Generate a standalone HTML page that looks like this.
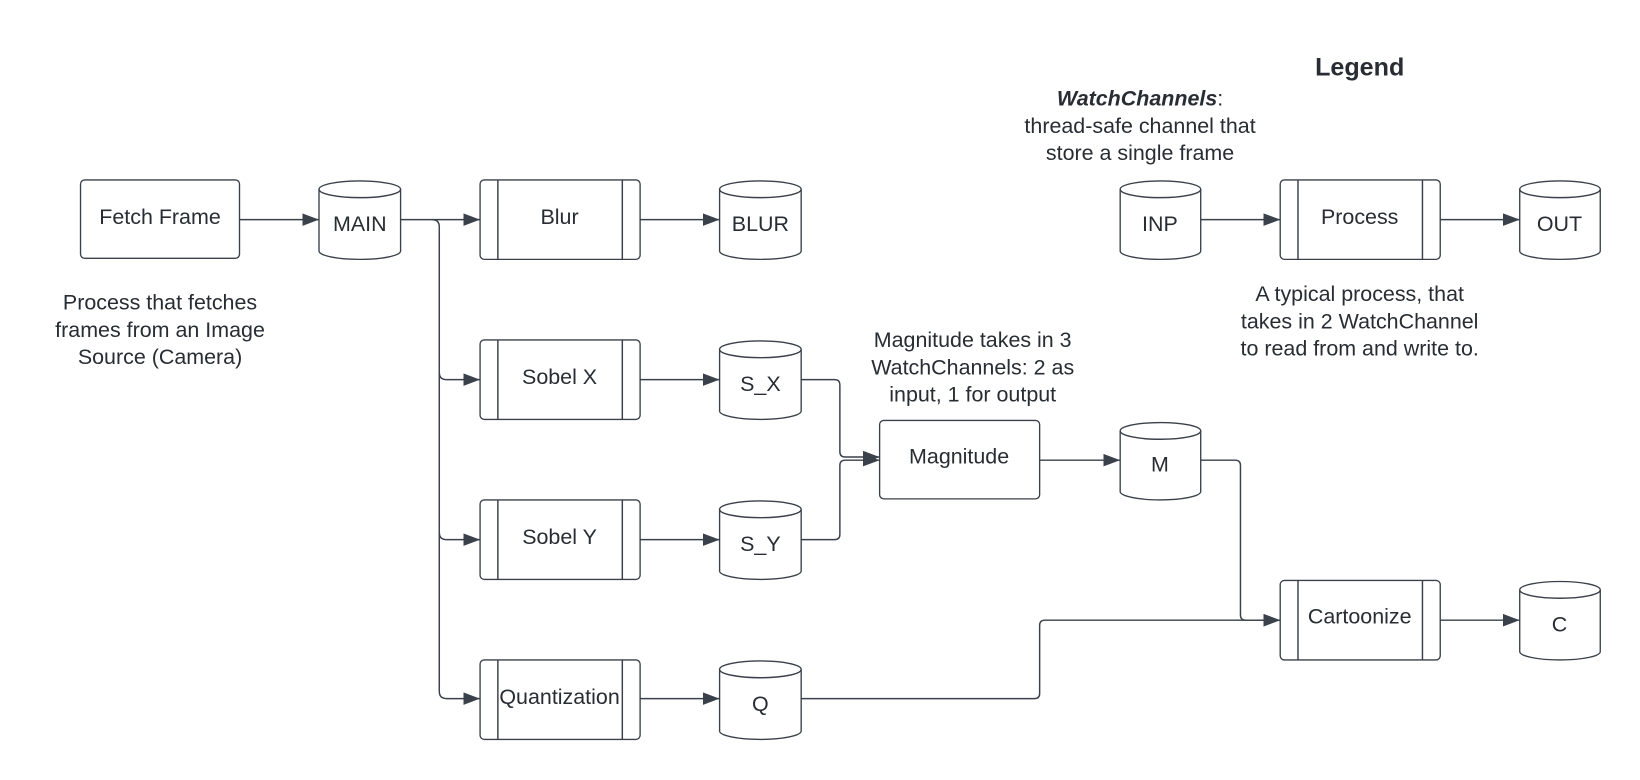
<!DOCTYPE html>
<html><head><meta charset="utf-8"><style>
body{margin:0;background:#fff}
svg{display:block}
text{font-family:"Liberation Sans",Arial,sans-serif;font-size:20.5px;fill:#282c33;text-anchor:middle}
.s{fill:#fff;stroke:#3a414a;stroke-width:1.3}
.l{fill:none;stroke:#3a414a;stroke-width:1.4}
</style></head><body>
<svg width="1640" height="780" viewBox="0 0 1568 745.8" preserveAspectRatio="none">
<defs>
<marker id="b" viewBox="0 0 16 12" refX="16" refY="6" markerWidth="16" markerHeight="12" markerUnits="userSpaceOnUse" orient="auto"><path d="M0,0 L16,6 L0,12z" fill="#3a414a"/></marker></defs>

<g class="l">
<path d="M229,210 H305" marker-end="url(#b)"/>
<path d="M383,210 H459" marker-end="url(#b)"/>
<path d="M413,210 Q420,210 420,217 V661 Q420,668 427,668 H459" marker-end="url(#b)"/>
<path d="M420,356 Q420,363 427,363 H459" marker-end="url(#b)"/>
<path d="M420,509 Q420,516 427,516 H459" marker-end="url(#b)"/>
<path d="M612,210 H688" marker-end="url(#b)"/>
<path d="M612,363 H688" marker-end="url(#b)"/>
<path d="M612,516 H688" marker-end="url(#b)"/>
<path d="M612,668 H688" marker-end="url(#b)"/>
<path d="M766,363 H798 Q803,363 803,368 V432 Q803,437 808,437 H841" marker-end="url(#b)"/>
<path d="M766,516 H798 Q803,516 803,511 V445 Q803,440 808,440 H841" marker-end="url(#b)"/>
<path d="M994,440 H1071" marker-end="url(#b)"/>
<path d="M1148,440 H1181 Q1186,440 1186,445 V588 Q1186,593 1191,593 H1224" marker-end="url(#b)"/>
<path d="M766,668 H989 Q994,668 994,663 V598 Q994,593 999,593 H1224" marker-end="url(#b)"/>
<path d="M1377,593 H1453" marker-end="url(#b)"/>
<path d="M1148,210 H1224" marker-end="url(#b)"/>
<path d="M1377,210 H1453" marker-end="url(#b)"/>
</g>

<rect class="s" x="77" y="172" width="152" height="75" rx="4"/>
<text x="153" y="214">Fetch Frame</text>
<rect class="s" x="841" y="402" width="153" height="75" rx="4"/>
<text x="917" y="443">Magnitude</text>

<g>
<rect class="s" x="459" y="172" width="153" height="76" rx="4"/><path class="l" d="M476,172V248M595,172V248"/>
<rect class="s" x="459" y="325" width="153" height="76" rx="4"/><path class="l" d="M476,325V401M595,325V401"/>
<rect class="s" x="459" y="478" width="153" height="76" rx="4"/><path class="l" d="M476,478V554M595,478V554"/>
<rect class="s" x="459" y="631" width="153" height="76" rx="4"/><path class="l" d="M476,631V707M595,631V707"/>
<rect class="s" x="1224" y="555" width="153" height="76" rx="4"/><path class="l" d="M1241,555V631M1360,555V631"/>
<rect class="s" x="1224" y="172" width="153" height="76" rx="4"/><path class="l" d="M1241,172V248M1360,172V248"/>
</g>
<text x="535" y="214">Blur</text>
<text x="535" y="367">Sobel X</text>
<text x="535" y="520">Sobel Y</text>
<text x="535" y="673">Quantization</text>
<text x="1300" y="596">Cartoonize</text>
<text x="1300" y="214">Process</text>

<g>
<path class="s" d="M305,181 A39,8 0 0 1 383,181 V240 A39,8 0 0 1 305,240Z"/><path class="l" d="M305,181 A39,8 0 0 0 383,181"/>
<path class="s" d="M688,181 A39,8 0 0 1 766,181 V240 A39,8 0 0 1 688,240Z"/><path class="l" d="M688,181 A39,8 0 0 0 766,181"/>
<path class="s" d="M688,334 A39,8 0 0 1 766,334 V393 A39,8 0 0 1 688,393Z"/><path class="l" d="M688,334 A39,8 0 0 0 766,334"/>
<path class="s" d="M688,487 A39,8 0 0 1 766,487 V546 A39,8 0 0 1 688,546Z"/><path class="l" d="M688,487 A39,8 0 0 0 766,487"/>
<path class="s" d="M688,640 A39,8 0 0 1 766,640 V699 A39,8 0 0 1 688,699Z"/><path class="l" d="M688,640 A39,8 0 0 0 766,640"/>
<path class="s" d="M1071,412 A38.5,8 0 0 1 1148,412 V470 A38.5,8 0 0 1 1071,470Z"/><path class="l" d="M1071,412 A38.5,8 0 0 0 1148,412"/>
<path class="s" d="M1453,564 A38.5,8 0 0 1 1530,564 V623 A38.5,8 0 0 1 1453,623Z"/><path class="l" d="M1453,564 A38.5,8 0 0 0 1530,564"/>
<path class="s" d="M1071,181 A38.5,8 0 0 1 1148,181 V240 A38.5,8 0 0 1 1071,240Z"/><path class="l" d="M1071,181 A38.5,8 0 0 0 1148,181"/>
<path class="s" d="M1453,181 A38.5,8 0 0 1 1530,181 V240 A38.5,8 0 0 1 1453,240Z"/><path class="l" d="M1453,181 A38.5,8 0 0 0 1530,181"/>
</g>
<text x="344" y="221">MAIN</text>
<text x="727" y="221">BLUR</text>
<text x="727" y="374">S_X</text>
<text x="727" y="527">S_Y</text>
<text x="727" y="680">Q</text>
<text x="1109" y="451">M</text>
<text x="1491" y="604">C</text>
<text x="1109" y="221">INP</text>
<text x="1491" y="221">OUT</text>

<text x="153" y="296">Process that fetches</text>
<text x="153" y="322">frames from an Image</text>
<text x="153" y="348">Source (Camera)</text>
<text x="930" y="332">Magnitude takes in 3</text>
<text x="930" y="358">WatchChannels: 2 as</text>
<text x="930" y="384">input, 1 for output</text>
<text x="1300" y="288">A typical process, that</text>
<text x="1300" y="314">takes in 2 WatchChannel</text>
<text x="1300" y="340">to read from and write to.</text>
<text x="1300" y="72" style="font-size:24px;font-weight:bold">Legend</text>
<text x="1090" y="101"><tspan style="font-weight:bold;font-style:italic">WatchChannels</tspan>:</text>
<text x="1090" y="127">thread-safe channel that</text>
<text x="1090" y="153">store a single frame</text>
</svg>
</body></html>
